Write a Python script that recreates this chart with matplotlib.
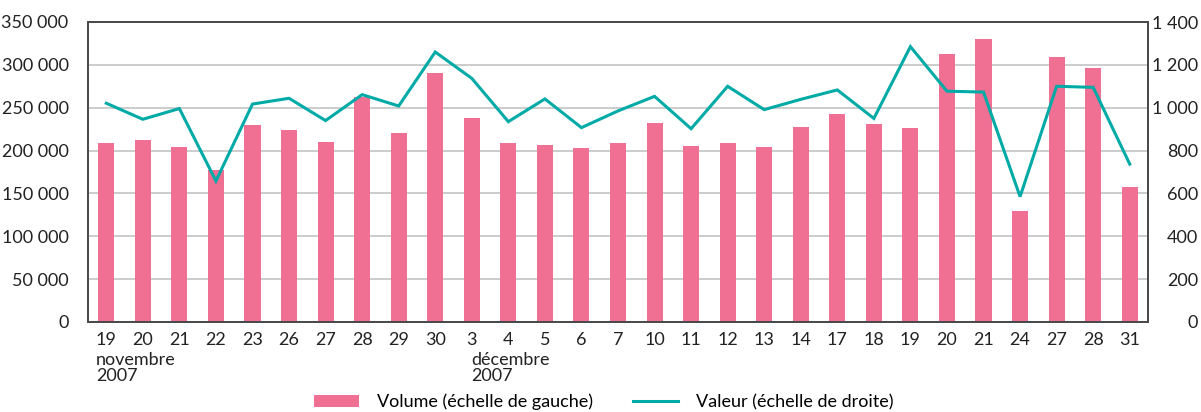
import matplotlib.pyplot as plt
from matplotlib.ticker import FuncFormatter

plt.rcParams['font.family'] = ['Lato', 'DejaVu Sans']

# Jours de bourse (novembre - decembre 2007)
jours = ['19', '20', '21', '22', '23', '26', '27', '28', '29', '30',
         '3', '4', '5', '6', '7', '10', '11', '12', '13', '14',
         '17', '18', '19', '20', '21', '24', '27', '28', '31']

# Volume (echelle de gauche)
volume = [208800, 212000, 204000, 177000, 230000, 224000, 210000, 262000, 220000, 290500,
          238000, 209000, 206500, 203000, 209000, 232000, 205000, 209000, 204000, 227500,
          242700, 231000, 226000, 312700, 330000, 129500, 309000, 296000, 157500]

# Valeur (echelle de droite)
valeur = [1021, 946, 996, 658, 1017, 1044, 940, 1061, 1008, 1260,
          1137, 935, 1041, 907, 985, 1053, 902, 1100, 991, 1039,
          1083, 950, 1285, 1077, 1073, 585, 1100, 1095, 737]

pink = '#f07093'
teal = '#00aaa6'
dark = '#4a4a4a'

fig = plt.figure(figsize=(12.01, 4.12), dpi=100)
ax = fig.add_axes([88 / 1201, 90 / 412, 1060 / 1201, 300 / 412])
ax2 = ax.twinx()

x = list(range(len(jours)))
ax.bar(x, volume, width=0.44, color=pink, zorder=2, label='Volume (échelle de gauche)')
ax2.plot(x, valeur, color=teal, linewidth=2.2, solid_joinstyle='miter', label='Valeur (échelle de droite)')

ax.set_xlim(-0.5, len(jours) - 0.5)
ax.set_ylim(0, 350000)
ax2.set_ylim(0, 1400)
ax.set_yticks(range(0, 350001, 50000))
ax2.set_yticks(range(0, 1401, 200))

fmt = FuncFormatter(lambda v, p: '{:,}'.format(int(v)).replace(',', ' '))
ax.yaxis.set_major_formatter(fmt)
ax2.yaxis.set_major_formatter(fmt)

ax.grid(axis='y', color='#c8c8c8', linewidth=1.3, zorder=0)
ax.set_axisbelow(True)

ax.set_xticks(x)
ax.set_xticklabels(jours)
ax.tick_params(axis='x', length=0, pad=7, labelsize=13, colors='#222222')
ax.tick_params(axis='y', length=0, pad=14, labelsize=13, colors='#222222')
ax2.tick_params(axis='y', length=0, pad=36, labelsize=13, colors='#222222')
for lab in ax2.get_yticklabels():
    lab.set_horizontalalignment('right')

for a in (ax, ax2):
    for s in a.spines.values():
        s.set_color(dark)
        s.set_linewidth(1.3)

# mois sous les jours
ax.text(-0.28, -0.1, 'novembre\n2007', transform=ax.get_xaxis_transform(),
        ha='left', va='top', fontsize=13, color='#222222', linespacing=1.0)
ax.text(9.98, -0.1, 'décembre\n2007', transform=ax.get_xaxis_transform(),
        ha='left', va='top', fontsize=13, color='#222222', linespacing=1.0)

h1, l1 = ax.get_legend_handles_labels()
h2, l2 = ax2.get_legend_handles_labels()
fig.legend(h1 + h2, l1 + l2, loc='lower center', bbox_to_anchor=(0.503, -0.035), ncol=2,
           frameon=False, fontsize=13, handlelength=2.5, handleheight=0.7,
           handletextpad=1.0, columnspacing=2.2)

fig.savefig('out.png', dpi=100)
